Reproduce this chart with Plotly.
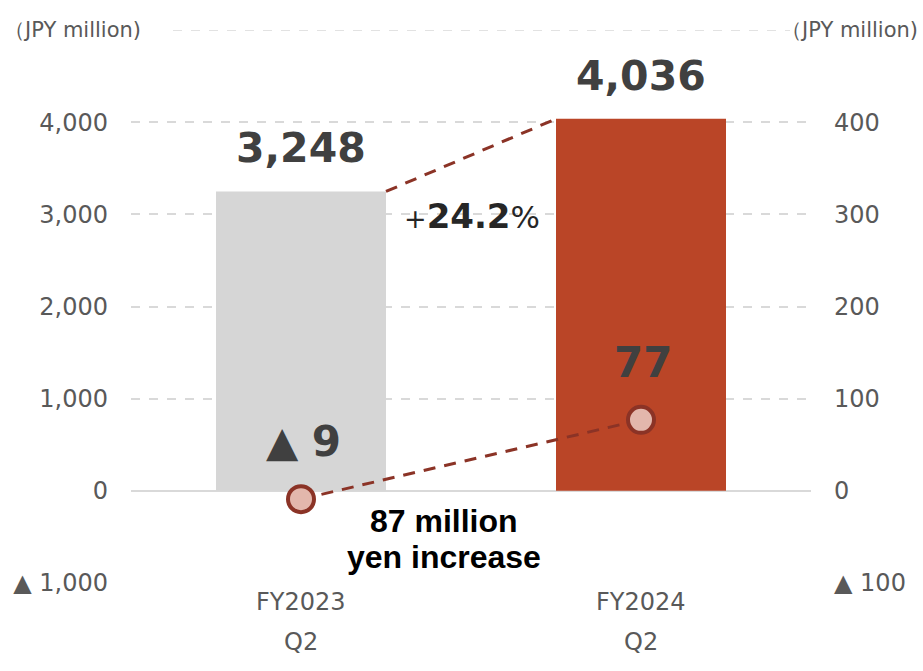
import plotly.graph_objects as go

categories = ["FY2023", "FY2024"]
sub_labels = ["Q2", "Q2"]
sales = [3248, 4036]            # left axis, JPY million
profit = [-9, 77]               # right axis, JPY million
growth_pct = 24.2
increase_lines = ["87 million", "yen increase"]
unit_label = "（JPY million)"
left_ticks = [-1000, 0, 1000, 2000, 3000, 4000]
left_ticktext = ["▲ 1,000", "0", "1,000", "2,000", "3,000", "4,000"]
right_ticks = [-100, 0, 100, 200, 300, 400]
right_ticktext = ["▲ 100", "0", "100", "200", "300", "400"]

xs = list(range(len(categories)))
bar_w = 0.5
bar_colors = ["#D6D6D6", "#BA4527"]
line_col = "#8B3326"
tick_col = "#595959"
lab_col = "#404040"
FONT = "DejaVu Sans"

def fmt_profit(v):
    return ("▲ " + f"<b>{abs(v):,}</b>") if v < 0 else f"<b>{v:,}</b>"

fig = go.Figure()
fig.add_trace(go.Bar(x=xs, y=sales, width=bar_w, marker=dict(color=bar_colors, line=dict(width=0)),
                     hoverinfo="skip", showlegend=False))
# connector between bar tops
fig.add_trace(go.Scatter(x=[xs[0] + bar_w / 2, xs[1] - bar_w / 2], y=sales, mode="lines",
                         line=dict(color=line_col, width=3, dash="12px,9px"), showlegend=False, hoverinfo="skip"))
# profit line
fig.add_trace(go.Scatter(x=xs, y=profit, yaxis="y2", mode="lines+markers",
                         line=dict(color=line_col, width=3, dash="12px,9px"),
                         marker=dict(size=26, color="#E3B7AC", line=dict(color=line_col, width=4)),
                         showlegend=False, hoverinfo="skip"))

ann = []
for x, v in zip(xs, sales):
    ann.append(dict(x=x, y=v, xref="x", yref="y", text=f"<b>{v:,}</b>", showarrow=False,
                    yanchor="bottom", yshift=17, font=dict(size=41, color=lab_col, family=FONT)))
for x, v in zip(xs, profit):
    ann.append(dict(x=x, y=v, xref="x", yref="y2", text=fmt_profit(v), showarrow=False,
                    yanchor="bottom", yshift=31, xshift=2, font=dict(size=42, color=lab_col, family=FONT)))
ann.append(dict(x=0.5, y=sales[0], xref="x", yref="y", showarrow=False, yshift=-25, xshift=1,
                text=f"<span style='font-size:27px'>+</span><b>{growth_pct}</b><span style='font-size:31px'>%</span>",
                font=dict(size=34, color="#262626", family=FONT)))
for i, line in enumerate(increase_lines):
    ann.append(dict(x=0.42, y=-520, xref="x", yref="y", showarrow=False, text=f"<b>{line}</b>",
                    yshift=18 - 36 * i, font=dict(size=32, color="#000000", family="Liberation Sans")))
for x, c, s in zip(xs, categories, sub_labels):
    ann.append(dict(x=x, y=0, xref="x", yref="paper", yshift=-35, showarrow=False, text=c,
                    font=dict(size=24, color=tick_col, family=FONT)))
    ann.append(dict(x=x, y=0, xref="x", yref="paper", yshift=-75, showarrow=False, text=s,
                    font=dict(size=24, color=tick_col, family=FONT)))
ann.append(dict(x=0, y=1, xref="paper", yref="paper", xanchor="left", yanchor="middle", xshift=-129,
                showarrow=False, text=unit_label, font=dict(size=21, color=tick_col, family=FONT)))
ann.append(dict(x=1, y=1, xref="paper", yref="paper", xanchor="right", yanchor="middle", xshift=109,
                showarrow=False, text=unit_label, font=dict(size=21, color=tick_col, family=FONT)))

fig.update_layout(
    width=923, height=671, margin=dict(l=131, r=112, t=30, b=88),
    paper_bgcolor="white", plot_bgcolor="white",
    font=dict(family=FONT, color=tick_col),
    xaxis=dict(range=[-0.5, 1.5], showticklabels=False, showgrid=False, zeroline=False, showline=False,
               fixedrange=True),
    yaxis=dict(range=[-1000, 5000], tickvals=left_ticks, ticktext=left_ticktext, showgrid=True,
               gridcolor="#D9D9D9", griddash="dash", gridwidth=1.5, zeroline=True, zerolinecolor="#D9D9D9",
               zerolinewidth=2, tickfont=dict(size=24, color=tick_col), ticklabelstandoff=22, showline=False),
    yaxis2=dict(range=[-100, 500], tickvals=right_ticks, ticktext=right_ticktext, overlaying="y", side="right",
                showgrid=False, zeroline=False, tickfont=dict(size=24, color=tick_col), ticklabelstandoff=22,
                showline=False),
    annotations=ann,
    shapes=[dict(type="line", xref="paper", yref="y", x0=42 / 680, x1=659 / 680, y0=5000, y1=5000,
                 line=dict(color="#D9D9D9", width=1.5, dash="dash"))],
)

fig.write_html("out.html")
